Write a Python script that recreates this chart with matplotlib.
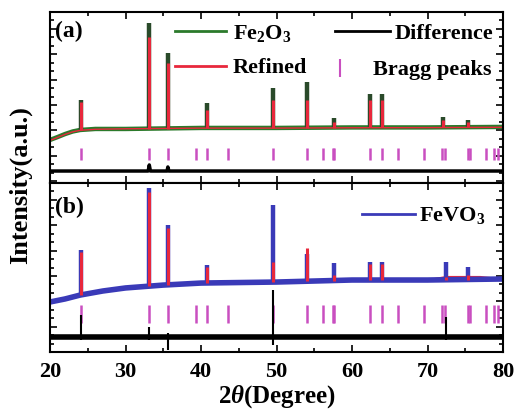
import numpy as np
import matplotlib.pyplot as plt
from matplotlib.lines import Line2D
from matplotlib.ticker import MultipleLocator, NullFormatter

plt.rcParams['font.family'] = 'Liberation Serif'
plt.rcParams['font.weight'] = 'bold'
plt.rcParams['axes.labelweight'] = 'bold'
plt.rcParams['mathtext.fontset'] = 'custom'
plt.rcParams['mathtext.rm'] = 'Liberation Serif:bold'
plt.rcParams['mathtext.it'] = 'Liberation Serif:italic:bold'
plt.rcParams['mathtext.bf'] = 'Liberation Serif:bold'

# ---- (a) Fe2O3 ----
fe_bg_x = [20, 21, 22, 23, 24, 26, 30, 40, 50, 60, 70, 80]
fe_obs_bg = [24.3, 26.0, 27.8, 29.3, 30.2, 30.8, 30.8, 31.4, 31.4, 31.7, 31.7, 32.0]
fe_calc_bg = [24.0, 25.8, 27.6, 29.1, 30.0, 30.6, 30.9, 31.3, 31.3, 31.5, 31.6, 31.8]

peak_pos = [24.14, 33.15, 35.61, 40.85, 49.48, 54.09, 57.59, 62.45, 64.01, 72.0, 75.43]
fe_peak_base = [30.2, 30.9, 31.0, 31.4, 31.4, 31.5, 31.6, 31.7, 31.7, 31.7, 31.8]
fe_obs_top = [47.9, 93.5, 75.7, 46.2, 55.0, 58.6, 37.3, 51.5, 51.5, 37.9, 36.1]
fe_calc_top = [47.0, 85.2, 69.8, 42.0, 48.0, 48.0, 35.0, 48.0, 48.0, 36.0, 35.0]

fe_diff_x = [20, 33.0, 33.15, 33.3, 35.5, 35.61, 35.75, 80]
fe_diff = [5.9, 5.9, 9.5, 5.9, 5.9, 8.3, 5.9, 5.9]

# ---- (b) FeVO3 ----
fv_bg_x = [20, 22, 24, 27, 30, 35, 40, 50, 60, 70, 80]
fv_obs_bg = [29.6, 31.4, 33.7, 36.1, 37.9, 39.6, 40.8, 41.4, 42.6, 42.6, 43.2]
fv_calc_x = [20, 24, 30, 40, 50, 60, 70, 72.5, 77, 80]
fv_calc_bg = [30.0, 34.0, 38.0, 40.8, 41.4, 42.3, 42.5, 44.4, 44.4, 43.0]

fv_peak_pos = [24.14, 33.15, 35.61, 40.85, 49.48, 54.09, 57.59, 62.45, 64.01, 72.4, 75.43]
fv_peak_base = [33.7, 39.0, 39.8, 40.9, 41.4, 41.8, 42.0, 42.4, 42.5, 42.6, 42.8]
fv_obs_top = [60.4, 97.0, 75.1, 51.5, 87.0, 58.0, 52.7, 53.3, 53.3, 53.3, 50.3]
fv_calc_top = [59.0, 94.7, 73.4, 50.3, 53.3, 61.5, 45.6, 52.0, 52.0, 44.4, 45.6]

fv_diff_x = [20, 80]
fv_diff = [8.9, 8.9]
fv_spike_pos = [24.14, 33.15, 35.61, 49.48, 72.4]
fv_spike_lo = [7.0, 7.0, 1.0, 4.1, 7.0]
fv_spike_hi = [22.0, 14.8, 11.0, 36.7, 20.7]

# Bragg reflections of hematite
bragg_pos = [24.14, 33.15, 35.61, 39.28, 40.85, 43.52, 49.48, 54.09, 56.15, 57.43,
             57.59, 62.45, 64.01, 66.03, 69.6, 71.94, 72.26, 75.3, 75.6, 77.73,
             78.76, 79.4]

green = '#2b7a2b'
red = '#e8283c'
mag = '#c94fc0'
blue = '#3a3ab8'

fig = plt.figure(figsize=(5.15, 4.15), dpi=100)
ax1 = fig.add_axes([0.0971, 0.559, 0.8796, 0.412])
ax2 = fig.add_axes([0.0971, 0.1518, 0.8796, 0.4072])

# panel a
ax1.plot(fe_bg_x, fe_obs_bg, color=green, lw=3.2)
ax1.vlines(peak_pos, fe_peak_base, fe_obs_top, color='#2a4a2a', lw=3.2)
ax1.plot(fe_bg_x, fe_calc_bg, color=red, lw=1.0)
ax1.vlines(peak_pos, fe_peak_base, fe_calc_top, color=red, lw=2.2)
ax1.vlines(bragg_pos, 12.4, 19.5, color=mag, lw=1.8)
ax1.plot(fe_diff_x, fe_diff, color='black', lw=2.5)
ax1.set_ylim(-1.2, 100)

# panel b
ax2.plot(fv_calc_x, fv_calc_bg, color=red, lw=1.5)
ax2.plot(fv_bg_x, fv_obs_bg, color=blue, lw=4)
ax2.vlines(fv_peak_pos, fv_peak_base, fv_obs_top, color=blue, lw=3.2)
ax2.vlines(fv_peak_pos, fv_peak_base, fv_calc_top, color=red, lw=2.2)
ax2.vlines(bragg_pos, 17.2, 27.8, color=mag, lw=1.8)
ax2.plot(fv_diff_x, fv_diff, color='black', lw=4)
ax2.vlines(fv_spike_pos, fv_spike_lo, fv_spike_hi, color='black', lw=1.5)
ax2.set_ylim(0, 100)

for ax in (ax1, ax2):
    ax.set_xlim(20, 80)
    ax.xaxis.set_major_locator(MultipleLocator(10))
    ax.xaxis.set_minor_locator(MultipleLocator(5))
    ax.yaxis.set_major_locator(MultipleLocator(15))
    ax.yaxis.set_minor_locator(MultipleLocator(5))
    ax.yaxis.set_major_formatter(NullFormatter())
    ax.tick_params(which='both', direction='in', top=True, right=True, width=1.2)
    ax.tick_params(which='major', length=5, labelsize=16, pad=7)
    ax.tick_params(which='minor', length=3)
    for s in ax.spines.values():
        s.set_linewidth(1.5)

ax1.xaxis.set_major_formatter(NullFormatter())
ax2.set_xlabel(r'2$\theta$(Degree)', fontsize=18, fontweight='bold', labelpad=1)
fig.text(0.04, 0.555, 'Intensity(a.u.)', rotation=90, fontsize=19,
         fontweight='bold', ha='center', va='center')

ax1.text(0.012, 0.885, '(a)', transform=ax1.transAxes, fontsize=17, va='center')
ax2.text(0.012, 0.855, '(b)', transform=ax2.transAxes, fontsize=17, va='center')

leg_kw = dict(frameon=False, fontsize=16, borderpad=0, borderaxespad=0,
              loc='upper left')

h_a = [Line2D([], [], color=green, lw=2), Line2D([], [], color=red, lw=2)]
leg1 = ax1.legend(h_a, [r'Fe$_2$O$_3$', 'Refined'], bbox_to_anchor=(0.276, 0.935),
                  handlelength=2.3, handletextpad=0.3, labelspacing=0.62, **leg_kw)
ax1.add_artist(leg1)
leg2 = ax1.legend([Line2D([], [], color='black', lw=2)], ['Difference'],
                  bbox_to_anchor=(0.629, 0.935), handlelength=2.5,
                  handletextpad=0.2, **leg_kw)
ax1.add_artist(leg2)
ax1.legend([Line2D([], [], color=mag, ls='none', marker='|', markersize=13, mew=1.5)],
           ['Bragg peaks'], bbox_to_anchor=(0.592, 0.72), handlelength=2.0,
           handletextpad=0.45, **leg_kw)

ax2.legend([Line2D([], [], color=blue, lw=2)], [r'FeVO$_3$'],
           bbox_to_anchor=(0.689, 0.868), handlelength=2.4, handletextpad=0.15,
           **leg_kw)

fig.savefig('out.png', dpi=100)
